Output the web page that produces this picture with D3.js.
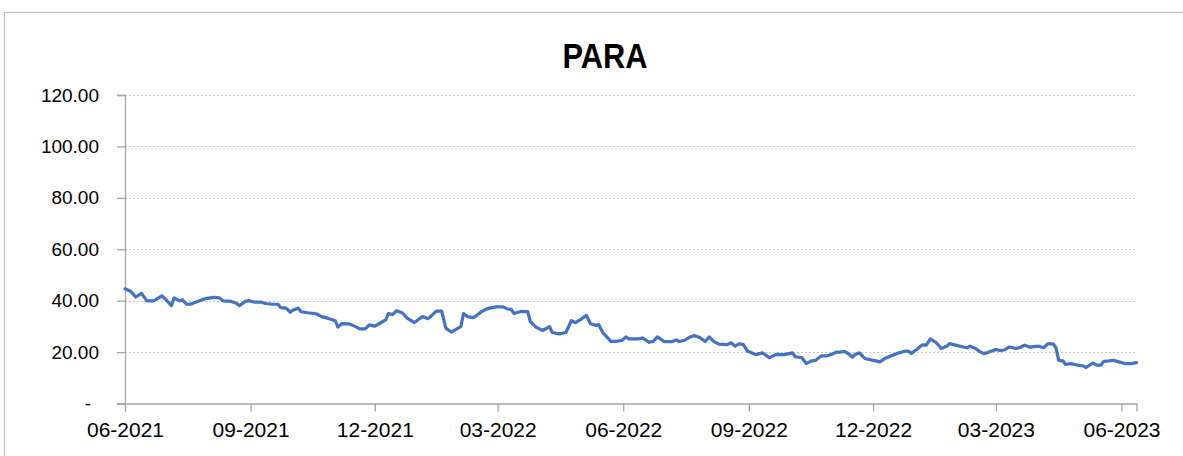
<!DOCTYPE html>
<html>
<head>
<meta charset="utf-8">
<script src="https://cdn.jsdelivr.net/npm/d3@7/dist/d3.min.js"></script>
<style>
  html, body { margin: 0; padding: 0; background: #fff; }
  svg { display: block; }
</style>
</head>
<body>
<svg id="chart" width="1183" height="456"></svg>
<script>
const title = "PARA";
const dates = [
  "2021-06-01","2021-06-05","2021-06-09","2021-06-13","2021-06-17","2021-06-22","2021-06-28",
  "2021-07-01","2021-07-05","2021-07-07","2021-07-11","2021-07-13","2021-07-16","2021-07-19","2021-07-25","2021-07-30",
  "2021-08-05","2021-08-09","2021-08-12","2021-08-18","2021-08-21","2021-08-24","2021-08-28","2021-08-31",
  "2021-09-04","2021-09-09","2021-09-12","2021-09-17","2021-09-21","2021-09-23","2021-09-27","2021-09-30",
  "2021-10-02","2021-10-06","2021-10-08","2021-10-13","2021-10-19","2021-10-23","2021-10-28",
  "2021-11-02","2021-11-04","2021-11-07","2021-11-12","2021-11-17","2021-11-20","2021-11-24","2021-11-27",
  "2021-12-01","2021-12-06","2021-12-09","2021-12-11","2021-12-14","2021-12-17","2021-12-21","2021-12-25","2021-12-30",
  "2022-01-02","2022-01-05","2022-01-09","2022-01-12","2022-01-15","2022-01-19","2022-01-22","2022-01-26","2022-01-31",
  "2022-02-02","2022-02-04","2022-02-07","2022-02-11","2022-02-13","2022-02-17","2022-02-21","2022-02-24","2022-02-28",
  "2022-03-05","2022-03-08","2022-03-11","2022-03-13","2022-03-18","2022-03-23","2022-03-25","2022-03-29",
  "2022-04-03","2022-04-08","2022-04-10","2022-04-15","2022-04-20","2022-04-24","2022-04-27",
  "2022-05-01","2022-05-05","2022-05-08","2022-05-12","2022-05-14","2022-05-17","2022-05-23","2022-05-27","2022-05-31",
  "2022-06-03","2022-06-05","2022-06-12","2022-06-15","2022-06-20","2022-06-23","2022-06-26",
  "2022-07-01","2022-07-07","2022-07-10","2022-07-12","2022-07-16","2022-07-20","2022-07-23","2022-07-27","2022-07-31",
  "2022-08-03","2022-08-06","2022-08-10","2022-08-16","2022-08-19","2022-08-22","2022-08-25","2022-08-28","2022-08-31",
  "2022-09-06","2022-09-11","2022-09-16","2022-09-21","2022-09-27",
  "2022-10-03","2022-10-05","2022-10-10","2022-10-13","2022-10-17","2022-10-20","2022-10-24","2022-10-28",
  "2022-11-01","2022-11-04","2022-11-07","2022-11-10","2022-11-12","2022-11-16","2022-11-18","2022-11-21","2022-11-25","2022-11-30",
  "2022-12-03","2022-12-06","2022-12-10","2022-12-15","2022-12-20","2022-12-25","2022-12-27","2022-12-29",
  "2023-01-02","2023-01-06","2023-01-09","2023-01-12","2023-01-16","2023-01-20","2023-01-24","2023-01-26",
  "2023-02-01","2023-02-06","2023-02-08","2023-02-10","2023-02-14","2023-02-17","2023-02-20","2023-02-23",
  "2023-03-01","2023-03-04","2023-03-07","2023-03-11","2023-03-16","2023-03-19","2023-03-22","2023-03-26","2023-03-30",
  "2023-04-02","2023-04-05","2023-04-08","2023-04-12","2023-04-14","2023-04-16","2023-04-19","2023-04-21","2023-04-25","2023-04-30",
  "2023-05-04","2023-05-06","2023-05-11","2023-05-14","2023-05-17","2023-05-19","2023-05-23","2023-05-26",
  "2023-06-01","2023-06-04","2023-06-08","2023-06-12"
];
const prices = [
  44.6,43.7,41.4,42.9,39.9,39.9,41.9,
  40.4,38.1,41.1,39.9,40.4,38.6,38.6,39.9,40.8,
  41.3,41.1,39.9,39.7,39.1,38.1,39.7,40.0,
  39.4,39.4,38.9,38.6,38.6,37.3,37.1,35.5,
  36.3,37.1,35.7,35.3,34.9,33.8,33.1,
  32.2,29.7,31.1,31.0,29.9,29.0,29.0,30.6,
  30.1,31.6,32.5,35.0,34.6,36.1,35.3,33.1,31.5,
  32.7,33.8,33.0,34.4,35.9,35.9,29.3,27.8,29.3,
  29.9,35.0,33.8,33.4,34.0,35.7,36.8,37.2,37.6,
  37.6,36.8,36.6,35.0,35.8,35.7,31.8,29.7,
  28.4,29.9,27.6,27.1,27.6,32.2,31.5,
  32.7,34.3,31.0,30.4,30.7,27.6,24.2,24.2,24.5,
  25.9,25.1,25.1,25.5,23.8,24.2,25.9,
  24.1,24.1,24.8,24.1,24.6,25.9,26.4,25.7,24.1,
  25.9,24.3,23.1,22.9,23.6,22.3,23.2,22.9,20.4,
  19.0,19.7,17.8,19.1,19.0,
  19.7,18.2,17.8,15.5,16.6,16.8,18.5,18.5,
  19.2,20.0,20.0,20.3,19.7,18.0,19.1,19.7,17.5,16.9,
  16.6,16.2,17.6,18.7,19.7,20.4,20.3,19.5,
  21.0,22.8,22.7,25.1,23.8,21.4,22.3,23.3,
  22.5,21.9,21.7,22.3,21.4,20.3,19.4,19.8,
  21.0,20.6,20.8,22.0,21.4,21.9,22.7,21.9,22.2,
  22.2,21.7,23.2,23.2,21.7,16.8,16.6,15.2,15.5,14.9,
  14.6,14.0,15.7,14.9,14.9,16.4,16.6,16.8,
  15.9,15.5,15.5,15.9
];
const yTicks = [0, 20, 40, 60, 80, 100, 120];
const xTickDates = ["2021-06-01","2021-09-01","2021-12-01","2022-03-01","2022-06-01","2022-09-01","2022-12-01","2023-03-01","2023-06-01"];
const xDomain = ["2021-06-01", "2023-06-12"];

const parse = d3.timeParse("%Y-%m-%d");
const data = dates.map((d, i) => ({ date: parse(d), value: prices[i] }));

const svg = d3.select("#chart");
const plotLeft = 125, plotRight = 1136.5, plotTop = 95, plotBottom = 403.5;

// chart border
svg.append("rect")
  .attr("x", 4.5).attr("y", 12.5)
  .attr("width", 1300).attr("height", 600)
  .attr("fill", "none").attr("stroke", "#BFBFBF").attr("stroke-width", 1.2);

const x = d3.scaleTime().domain(xDomain.map(parse)).range([plotLeft, plotRight]);
const y = d3.scaleLinear().domain([0, 120]).range([plotBottom, plotTop]);

const font = "'Liberation Sans', Arial, sans-serif";

// gridlines
svg.append("g")
  .selectAll("line")
  .data(yTicks.filter(t => t > 0))
  .join("line")
  .attr("x1", plotLeft).attr("x2", plotRight)
  .attr("y1", d => Math.round(y(d)) + 0.5).attr("y2", d => Math.round(y(d)) + 0.5)
  .attr("stroke", "#C8C8C8").attr("stroke-width", 1)
  .attr("stroke-dasharray", "2,2");

// y axis
const yAxis = d3.axisLeft(y)
  .tickValues(yTicks)
  .tickSize(8)
  .tickPadding(18)
  .tickFormat(d => d === 0 ? "-" : d3.format(".2f")(d));
const gy = svg.append("g").attr("transform", `translate(${plotLeft},0)`).call(yAxis);
gy.select(".domain").attr("stroke", "#A6A6A6").attr("stroke-width", 1.3);
gy.selectAll(".tick line").attr("stroke", "#A6A6A6").attr("stroke-width", 1.3);
gy.selectAll(".tick text")
  .attr("font-family", font).attr("font-size", 19).attr("fill", "#000");
gy.selectAll(".tick text").filter(d => d === 0).attr("dx", -8);

// x axis
const xAxis = d3.axisBottom(x)
  .tickValues(xTickDates.map(parse))
  .tickSize(8)
  .tickPadding(11)
  .tickFormat(d3.timeFormat("%m-%Y"));
const gx = svg.append("g").attr("transform", `translate(0,${plotBottom})`).call(xAxis);
gx.select(".domain").attr("stroke", "#A6A6A6").attr("stroke-width", 1.3);
gx.selectAll(".tick line").attr("stroke", "#A6A6A6").attr("stroke-width", 1.3);
gx.selectAll(".tick text")
  .attr("font-family", font).attr("font-size", 21).attr("fill", "#000");

// line
const line = d3.line().x(d => x(d.date)).y(d => y(d.value));
svg.append("path")
  .datum(data)
  .attr("d", line)
  .attr("fill", "none")
  .attr("stroke", "#4472C4")
  .attr("stroke-width", 3.2)
  .attr("stroke-linejoin", "round")
  .attr("stroke-linecap", "round");

// title
svg.append("text")
  .attr("transform", "translate(605,68) scale(0.88,1)")
  .attr("text-anchor", "middle")
  .attr("font-family", font)
  .attr("font-weight", "bold")
  .attr("font-size", 35)
  .attr("fill", "#000")
  .text(title);
</script>
</body>
</html>
